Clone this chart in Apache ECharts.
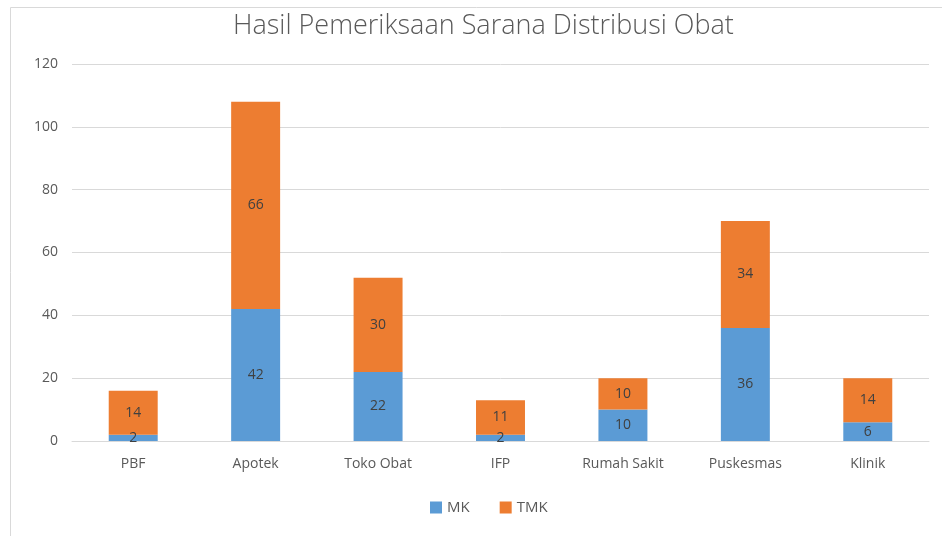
<!DOCTYPE html>
<html>
<head>
<meta charset="utf-8">
<script src="https://cdn.jsdelivr.net/npm/echarts@6/dist/echarts.min.js"></script>
<style>
  html, body { margin: 0; padding: 0; background: #fff; }
  #chart { width: 942px; height: 536px; }
</style>
</head>
<body>
<div id="chart"></div>
<script>
const categories = ['PBF', 'Apotek', 'Toko Obat', 'IFP', 'Rumah Sakit', 'Puskesmas', 'Klinik'];
const mkValues = [2, 42, 22, 2, 10, 36, 6];
const tmkValues = [14, 66, 30, 11, 10, 34, 14];

const chart = echarts.init(document.getElementById('chart'));
const labelStyle = {
  show: true,
  position: 'inside',
  color: '#404040',
  fontSize: 14,
  fontFamily: 'Open Sans'
};

const option = {
  animation: false,
  textStyle: { fontFamily: 'Open Sans' },
  graphic: [{
    type: 'rect',
    shape: { x: 10.5, y: 7.5, width: 940, height: 540 },
    style: { fill: 'none', stroke: '#d9d9d9', lineWidth: 1 },
    silent: true
  }],
  title: {
    text: 'Hasil Pemeriksaan Sarana Distribusi Obat',
    left: 228,
    top: 8,
    textStyle: {
      fontFamily: 'Open Sans',
      fontWeight: 300,
      fontSize: 27,
      color: '#595959'
    }
  },
  legend: {
    bottom: 16,
    left: 425,
    itemWidth: 12,
    itemHeight: 12,
    itemGap: 30,
    icon: 'rect',
    textStyle: { color: '#595959', fontSize: 15 },
    data: ['MK', 'TMK']
  },
  grid: { left: 72, right: 13, top: 64, bottom: 95 },
  xAxis: {
    type: 'category',
    data: categories,
    axisLine: { lineStyle: { color: '#d9d9d9' } },
    axisTick: { show: false },
    axisLabel: { color: '#595959', fontSize: 14, margin: 16 }
  },
  yAxis: {
    type: 'value',
    min: 0,
    max: 120,
    interval: 20,
    axisLine: { show: false },
    axisTick: { show: false },
    axisLabel: { color: '#595959', fontSize: 14, margin: 14 },
    splitLine: { lineStyle: { color: '#d9d9d9' } }
  },
  series: [
    {
      name: 'MK',
      type: 'bar',
      stack: 'total',
      barWidth: '40%',
      data: mkValues,
      itemStyle: { color: '#5B9BD5' },
      label: labelStyle
    },
    {
      name: 'TMK',
      type: 'bar',
      stack: 'total',
      barWidth: '40%',
      data: tmkValues,
      itemStyle: { color: '#ED7D31' },
      label: labelStyle
    }
  ]
};
chart.setOption(option);
</script>
</body>
</html>
